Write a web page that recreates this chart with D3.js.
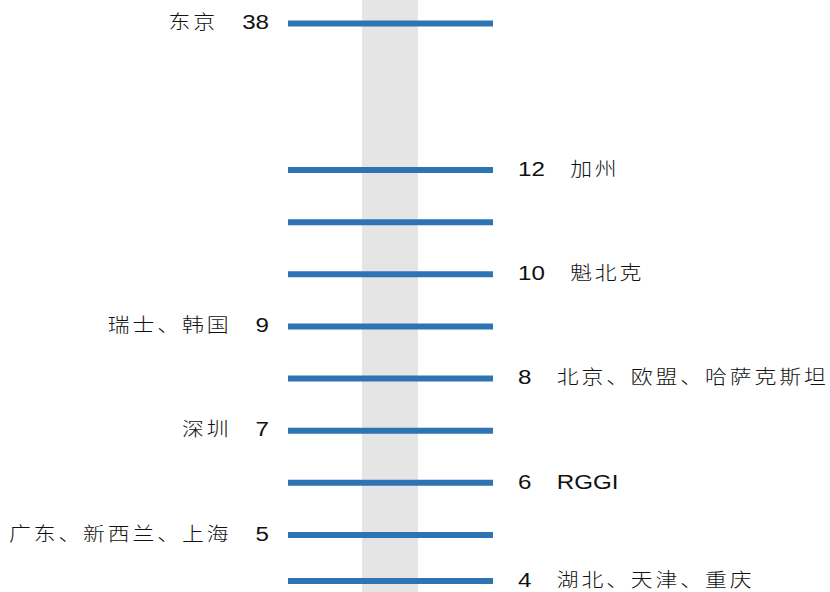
<!DOCTYPE html>
<html>
<head>
<meta charset="utf-8">
<script src="https://cdn.jsdelivr.net/npm/d3@7"></script>
<style>
  html, body { margin: 0; padding: 0; background: #fff; }
  svg { display: block; }
</style>
</head>
<body>
<svg id="chart" width="830" height="592"></svg>
<script>
// Carbon price levels and the markets sitting at each level
const values = [38, 12, 11, 10, 9, 8, 7, 6, 5, 4];
const names = ["东京", "加州", "", "魁北克", "瑞士、韩国", "北京、欧盟、哈萨克斯坦", "深圳", "RGGI", "广东、新西兰、上海", "湖北、天津、重庆"];
const sides = ["left", "right", "", "right", "left", "right", "left", "right", "left", "right"];

const rows = values.map((v, i) => ({ value: v, name: names[i], side: sides[i] }));

const W = 830, H = 592;
const svg = d3.select("#chart");

// Broken vertical scale: evenly spaced from 4 to 12, compressed above 12
const y = d3.scaleLinear()
  .domain([4, 5, 12, 38])
  .range([581, 535, 170, 23.5]);

// Horizontal extent of the scale bars
const x = d3.scaleLinear().domain([0, 1]).range([288, 493]);

// Grey centre band
svg.append("rect")
  .attr("x", 362).attr("y", 0)
  .attr("width", 56).attr("height", H)
  .attr("fill", "#e5e5e5");

// Bars
svg.append("g").selectAll("line")
  .data(rows)
  .join("line")
  .attr("x1", x(0)).attr("x2", x(1))
  .attr("y1", d => y(d.value)).attr("y2", d => y(d.value))
  .attr("stroke", "#2e74b5")
  .attr("stroke-width", 6);

const SX = 1.15;
const numFont = "'Liberation Sans', Arial, sans-serif";
const cjkFont = "'Liberation Sans', 'Noto Sans CJK SC', sans-serif";
const isLatin = s => /[A-Za-z]/.test(s);

const labelled = rows.filter(d => d.side);

const lab = svg.append("g").selectAll("g")
  .data(labelled)
  .join("g")
  .attr("transform", d => `translate(${d.side === "left" ? 269 : 518},${y(d.value)}) scale(${SX},1)`);

const txt = lab.append("text")
  .attr("x", 0)
  .attr("dy", "0.36em")
  .attr("text-anchor", d => d.side === "left" ? "end" : "start")
  .attr("fill", "#111");

// Left side: name then value; right side: value then name
txt.each(function (d) {
  const t = d3.select(this);
  const addName = (dx) => {
    const latin = isLatin(d.name);
    t.append("tspan")
      .attr("dx", dx)
      .attr("font-family", latin ? numFont : cjkFont)
      .attr("font-size", latin ? 21 : 19)
      .attr("font-weight", latin ? 400 : 300)
      .attr("letter-spacing", latin ? 0 : 2.5)
      .text(d.name);
  };
  const addNum = (dx) => t.append("tspan")
    .attr("dx", dx)
    .attr("font-family", numFont)
    .attr("font-size", 21)
    .text(d.value);
  if (d.side === "left") {
    addName(0);
    addNum(21);
  } else {
    addNum(0);
    addName(22);
  }
});
</script>
</body>
</html>
